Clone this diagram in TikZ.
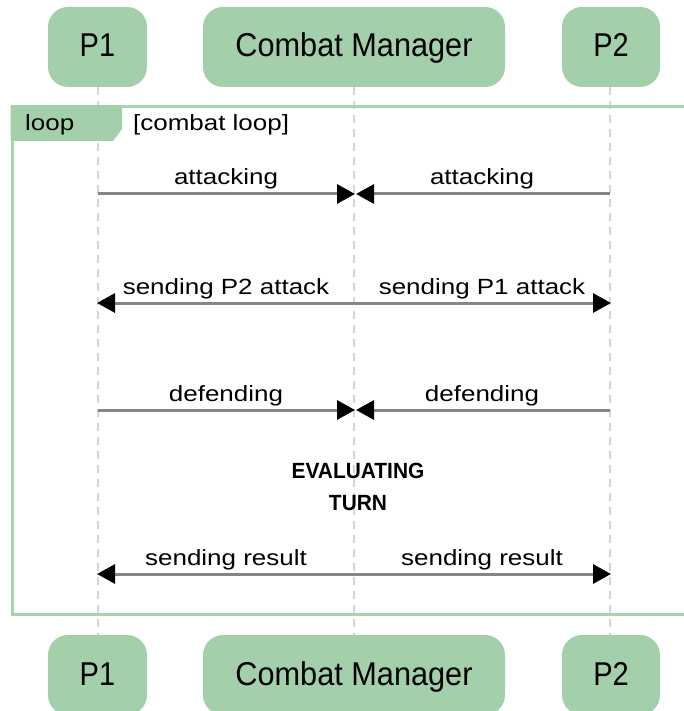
\documentclass[tikz,border=0pt]{standalone}
\usepackage{fontspec}
\setmainfont{Liberation Sans}
\usetikzlibrary{arrows.meta}
\definecolor{actorfill}{HTML}{A3D0AB}
\definecolor{framegreen}{HTML}{A8D5B1}
\definecolor{lifegray}{HTML}{D6D6D6}
\definecolor{msggray}{HTML}{858585}
\newcommand{\msgfont}{\fontsize{22}{26}\selectfont}
\newcommand{\wide}[1]{\scalebox{1.18}[1]{#1}}
\newcommand{\actorfont}{\fontsize{33}{38}\selectfont}
\begin{document}
\begin{tikzpicture}[x=1pt,y=-1pt,
  actor/.style={fill=actorfill,rounded corners=20pt,minimum height=80pt,inner sep=0pt},
  actortext/.style={anchor=base,inner sep=0pt,font=\actorfont},
  lifeline/.style={draw=lifegray,line width=2.5pt,dash pattern=on 8pt off 6pt},
  msg/.style={draw=msggray,line width=3pt,-{Triangle[length=18pt,width=19pt,color=black]}},
  msglabel/.style={anchor=base,inner sep=0pt,font=\msgfont},
  evaltext/.style={anchor=base,inner sep=0pt,font=\fontsize{22}{26}\selectfont\bfseries}]
\useasboundingbox (0,0) rectangle (684,711);

% participant heads (top) and feet (bottom)
\node[actor,minimum width=99pt] (p1top) at (97.5,47) {};
\node[actor,minimum width=302pt] (cmtop) at (354,47) {};
\node[actor,minimum width=98pt] (p2top) at (611,47) {};
\node[actor,minimum width=99pt] (p1bot) at (97.5,675) {};
\node[actor,minimum width=302pt] (cmbot) at (354,675) {};
\node[actor,minimum width=98pt] (p2bot) at (611,675) {};
\foreach \n/\t/\s in {p1top/P1/0.88,cmtop/Combat Manager/0.93,p2top/P2/0.88,p1bot/P1/0.88,cmbot/Combat Manager/0.93,p2bot/P2/0.88}
  \node[actortext] at ([yshift=-10pt]\n.center) {\scalebox{\s}[1]{\t}};

% lifelines
\coordinate (l1a) at (98,87);  \coordinate (l1b) at (98,635);
\coordinate (l2a) at (354,87); \coordinate (l2b) at (354,635);
\coordinate (l3a) at (610,87); \coordinate (l3b) at (610,635);
\draw[lifeline] (l1a) -- (l1b);
\draw[lifeline] (l2a) -- (l2b);
\draw[lifeline] (l3a) -- (l3b);

% loop fragment
\draw[framegreen,line width=3pt] (700,107) -- (12,107) -- (12,614) -- (700,614);
\fill[actorfill] (10.5,105.5) -- (122,105.5) -- (122,129) -- (113,141) -- (10.5,141) -- cycle;
\node[msglabel,anchor=base west] (looptag) at (25,131) {\wide{loop}};
\node[msglabel,anchor=base west] (loopcond) at (133,131) {\wide{[combat loop]}};

% message anchor points on the lifelines
\foreach \i/\y in {1/194,2/303,3/410,4/574}{
  \coordinate (a\i) at (98,\y);
  \coordinate (b\i) at (354,\y);
  \coordinate (c\i) at (610,\y);
}

% attacking
\draw[msg] (a1) -- ([xshift=1pt]b1);
\draw[msg] (c1) -- ([xshift=2pt]b1);
\node[msglabel] at ([xshift=-128pt,yshift=9pt]b1) {\wide{attacking}};
\node[msglabel] at ([xshift=128pt,yshift=9pt]b1) {\wide{attacking}};

% sending attacks
\draw[msg] (b2) -- ([xshift=-1pt]a2);
\draw[msg] (b2) -- ([xshift=1pt]c2);
\node[msglabel] at ([xshift=-128pt,yshift=9pt]b2) {\wide{sending P2 attack}};
\node[msglabel] at ([xshift=128pt,yshift=9pt]b2) {\wide{sending P1 attack}};

% defending
\draw[msg] (a3) -- ([xshift=1pt]b3);
\draw[msg] (c3) -- ([xshift=2pt]b3);
\node[msglabel] at ([xshift=-128pt,yshift=9pt]b3) {\wide{defending}};
\node[msglabel] at ([xshift=128pt,yshift=9pt]b3) {\wide{defending}};

% evaluation note
\node[evaltext] (eval1) at (358,478) {\scalebox{0.95}[1]{EVALUATING}};
\node[evaltext] (eval2) at (358,510) {\scalebox{0.95}[1]{TURN}};

% sending result
\draw[msg] (b4) -- ([xshift=-1pt]a4);
\draw[msg] (b4) -- ([xshift=1pt]c4);
\node[msglabel] at ([xshift=-128pt,yshift=9pt]b4) {\wide{sending result}};
\node[msglabel] at ([xshift=128pt,yshift=9pt]b4) {\wide{sending result}};
\end{tikzpicture}
\end{document}
